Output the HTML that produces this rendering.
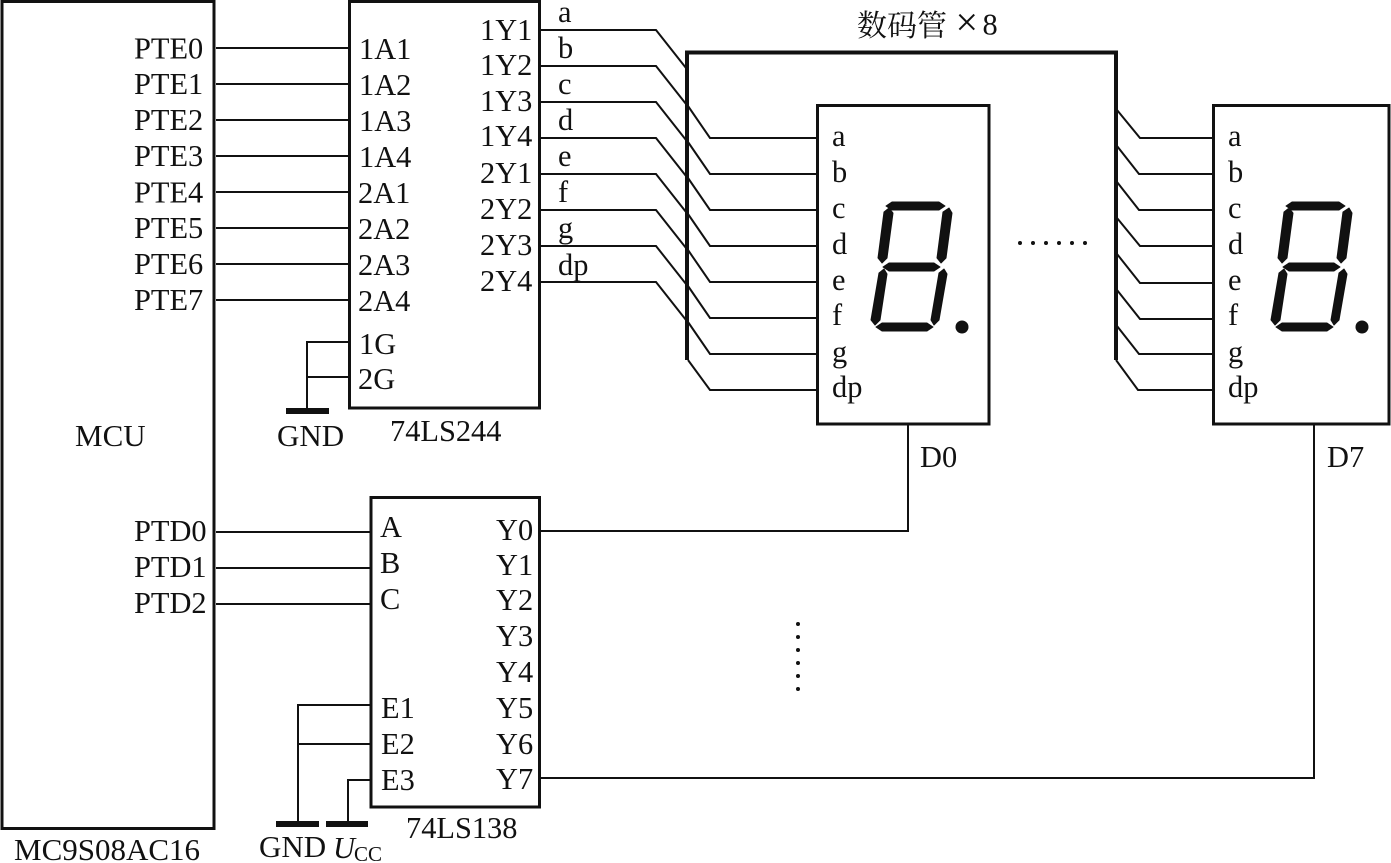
<!DOCTYPE html>
<html><head><meta charset="utf-8"><style>
html,body{margin:0;padding:0;background:#fff}
svg{display:block}
text{font-family:"Liberation Serif","Noto Serif CJK SC",serif;font-size:30.400px;fill:#111}
.w{fill:none;stroke:#111;stroke-width:2}
.b{fill:none;stroke:#111;stroke-width:3}
.t{fill:none;stroke:#111;stroke-width:4}
</style></head><body>
<svg xmlns="http://www.w3.org/2000/svg" width="1391" height="863" viewBox="0 0 1391 863">
<rect class="b" x="2" y="1.500" width="212" height="827"/>
<rect class="b" x="349.500" y="1.500" width="190" height="406.500"/>
<rect class="b" x="371" y="497.500" width="168.500" height="309.500"/>
<rect class="b" x="817.500" y="105.500" width="171.500" height="318.500"/>
<rect class="b" x="1213.500" y="105.500" width="175.500" height="318.500"/>
<path class="t" d="M687 360V52.500H1116V360"/>
<g class="w">
<path d="M216 48H349M216 84H349M216 120H349M216 156H349M216 192H349M216 228H349M216 264H349M216 300H349"/>
<path d="M216 532H371M216 568H371M216 604H371"/>
<path d="M349 342H307V408M349 377H307"/>
<path d="M371 705H298V822M371 744H298M371 780H348V822"/>
<path d="M540 531H908V425M540 778H1314V425"/>
<path d="M540 30H656L686 68M540 66H656L686 104M540 102H656L686 140M540 138H656L686 176M540 174H656L686 212M540 210H656L686 248M540 246H656L686 284M540 282H656L686 320"/>
<path d="M688 106L710 138H817M688 142L710 174H817M688 178L710 210H817M688 214L710 246H817M688 250L710 282H817M688 286L710 318H817M688 322L710 354H817M688 360L710 390H817"/>
<path d="M1117 110L1140 138H1213M1117 146L1139 174H1213M1117 182L1139 210H1213M1117 218L1140 246H1213M1117 254L1140 283H1213M1117 290L1140 319H1213M1117 326L1139 354H1213M1116 360L1138 390H1213"/>
</g>
<g fill="#111" stroke="#111" stroke-width="1" stroke-linejoin="round">
<path d="M886 206L892 202H939L945 206L939 210H892ZM883 267L889 263H934L940 267L934 271H889ZM876 327L882 323H927L933 327L927 331H882ZM889 208L893 213L887 258L882 263L878 258L884 212ZM949 208L952 213L946 258L941 263L937 258L943 212ZM884 269L887 274L880 320L875 325L871 320L879 273ZM944 269L947 274L939 320L934 325L931 320L939 273Z"/>
<path transform="translate(400 0)" d="M886 206L892 202H939L945 206L939 210H892ZM883 267L889 263H934L940 267L934 271H889ZM876 327L882 323H927L933 327L927 331H882ZM889 208L893 213L887 258L882 263L878 258L884 212ZM949 208L952 213L946 258L941 263L937 258L943 212ZM884 269L887 274L880 320L875 325L871 320L879 273ZM944 269L947 274L939 320L934 325L931 320L939 273Z"/>
</g>
<g fill="#111" stroke="none">
<rect x="286" y="408" width="43" height="6"/>
<rect x="276" y="821" width="43" height="6"/>
<rect x="326" y="821" width="42" height="6"/>
<circle cx="1020" cy="243" r="2"/><circle cx="1033" cy="243" r="2"/><circle cx="1046" cy="243" r="2"/><circle cx="1059" cy="243" r="2"/><circle cx="1072" cy="243" r="2"/><circle cx="1085" cy="243" r="2"/>
<circle cx="798" cy="624" r="2"/><circle cx="798" cy="637" r="2"/><circle cx="798" cy="650" r="2"/><circle cx="798" cy="663" r="2"/><circle cx="798" cy="676" r="2"/><circle cx="798" cy="689" r="2"/>
<circle cx="962" cy="327" r="6.500"/><circle cx="1362" cy="327" r="6.500"/>
</g>

<text x="134" y="58.400">PTE0</text><text x="134" y="94">PTE1</text><text x="134" y="130">PTE2</text><text x="134" y="166">PTE3</text><text x="134" y="202.400">PTE4</text><text x="134" y="238">PTE5</text><text x="134" y="274">PTE6</text><text x="134" y="310">PTE7</text>
<text x="134" y="541">PTD0</text><text x="134" y="577">PTD1</text><text x="134" y="613">PTD2</text>
<text x="75" y="446" style="font-size:31px">MCU</text>
<text x="14" y="860" style="font-size:31px">MC9S08AC16</text>

<text x="359" y="59">1A1</text><text x="359" y="95">1A2</text><text x="359" y="131">1A3</text><text x="359" y="167">1A4</text><text x="358" y="203">2A1</text><text x="358" y="239">2A2</text><text x="358" y="275">2A3</text><text x="358" y="311">2A4</text>
<text x="359" y="354">1G</text><text x="358" y="389">2G</text>
<text x="480" y="40">1Y1</text><text x="480" y="75">1Y2</text><text x="480" y="111">1Y3</text><text x="480" y="146">1Y4</text><text x="480" y="183">2Y1</text><text x="480" y="219">2Y2</text><text x="480" y="255">2Y3</text><text x="480" y="291">2Y4</text>
<text x="558" y="22">a</text><text x="558" y="58">b</text><text x="558" y="94">c</text><text x="558" y="130">d</text><text x="558" y="166">e</text><text x="558" y="202">f</text><text x="558" y="238">g</text><text x="558" y="275">dp</text>
<text x="277" y="446" style="font-size:31px">GND</text>
<text x="390" y="441">74LS244</text>

<text x="380" y="537">A</text><text x="380" y="573">B</text><text x="380" y="609">C</text>
<text x="381" y="718">E1</text><text x="381" y="754">E2</text><text x="381" y="790">E3</text>
<text x="496" y="540">Y0</text><text x="496" y="575">Y1</text><text x="496" y="610">Y2</text><text x="496" y="646">Y3</text><text x="496" y="682">Y4</text><text x="496" y="718">Y5</text><text x="496" y="754">Y6</text><text x="496" y="789">Y7</text>
<text x="406" y="838">74LS138</text>
<text x="259" y="857" style="font-size:31px">GND</text>
<text x="333" y="858" style="font-style:italic">U</text>
<text x="354" y="861" style="font-size:21px">CC</text>

<text x="857" y="36" style="font-size:30px">数码管</text><text x="955.500" y="35.500" style="font-size:40px">×</text><text x="982.500" y="34.500">8</text>

<text x="832" y="146">a</text><text x="832" y="182">b</text><text x="832" y="218">c</text><text x="832" y="254">d</text><text x="832" y="290">e</text><text x="832" y="325">f</text><text x="832" y="362">g</text><text x="832" y="397">dp</text>
<text x="1228" y="146">a</text><text x="1228" y="182">b</text><text x="1228" y="218">c</text><text x="1228" y="254">d</text><text x="1228" y="290">e</text><text x="1228" y="325">f</text><text x="1228" y="362">g</text><text x="1228" y="397">dp</text>
<text x="920" y="467">D0</text><text x="1327" y="467">D7</text>
</svg>
</body></html>
